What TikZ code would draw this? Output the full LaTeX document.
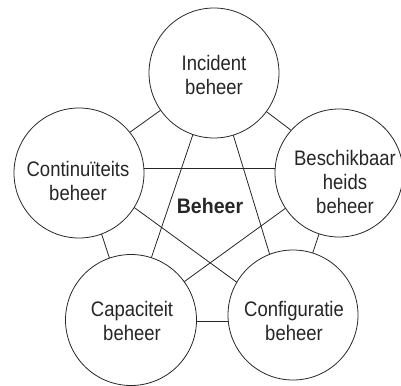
\documentclass[tikz,border=0pt]{standalone}
\usepackage{fontspec}
\setmainfont{Liberation Sans}[FakeStretch=0.88, BoldFeatures={FakeStretch=0.93}]
\usetikzlibrary{backgrounds}
\begin{document}
\begin{tikzpicture}[x=1pt,y=-1pt,
  circ/.style={circle, draw=black!85, line width=0.8pt, fill=white, minimum size=#1, inner sep=0pt},
  lbl/.style={font=\fontsize{21}{24}\selectfont, text=black!85, align=center, inner sep=0pt, anchor=base},
  link/.style={draw=black!85, line width=0.8pt}]
\useasboundingbox (0,0) rectangle (401,385);
% circles
\node[circ=130pt] (inc)   at (214,73)  {};
\node[circ=130pt] (cont)  at (79,173)  {};
\node[circ=128pt] (besch) at (339,173) {};
\node[circ=131pt] (cap)   at (131,320) {};
\node[circ=130pt] (conf)  at (293,315) {};
% hubs where the connectors meet
\coordinate (incH)   at (214,72);
\coordinate (contH)  at (80,168);
\coordinate (beschH) at (341,168);
\coordinate (capH)   at (130,321);
\coordinate (confH)  at (290,321);
% labels (anchor = baseline of the last line)
\node[lbl] (incT)   at (214,95)  {Incident\\beheer};
\node[lbl] (contT)  at (78,200)  {Continuïteits\\beheer};
\node[lbl] (beschT) at (345,213) {Beschikbaar\\heids\\beheer};
\node[lbl] (capT)   at (132,340) {Capaciteit\\beheer};
\node[lbl] (confT)  at (294,340) {Configuratie\\beheer};
\node[lbl, font=\fontsize{21}{24}\selectfont\bfseries] (mid) at (210,213) {Beheer};
% connectors
\begin{scope}[on background layer]
\draw[link] (incH) -- (contH);
\draw[link] (incH) -- (beschH);
\draw[link] (incH) -- (capH);
\draw[link] (incH) -- (confH);
\draw[link] (contH) -- (beschH);
\draw[link] (contH) -- (capH);
\draw[link] (contH) -- (confH);
\draw[link] (beschH) -- (capH);
\draw[link] (beschH) -- (confH);
\draw[link] (capH) -- (confH);
\end{scope}
\end{tikzpicture}
\end{document}
